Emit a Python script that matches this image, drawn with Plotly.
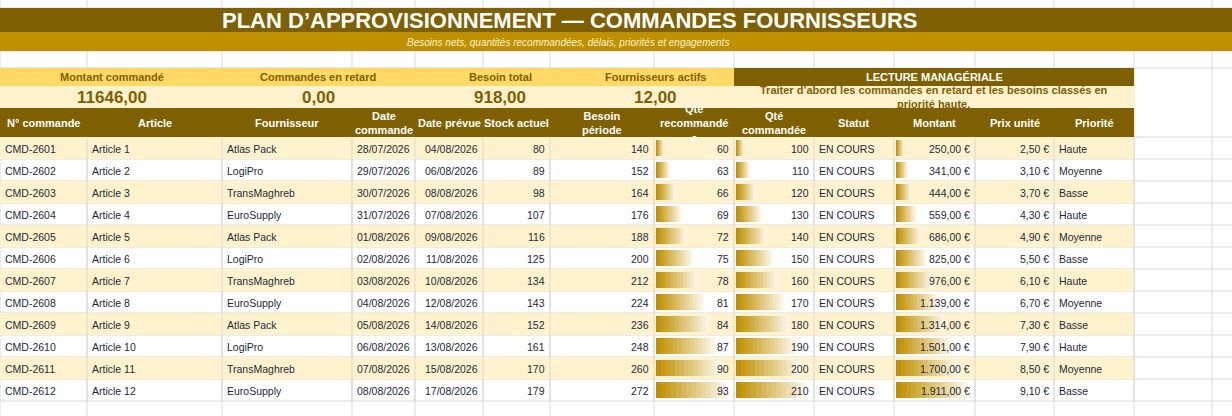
import plotly.graph_objects as go

order_ids = ["CMD-2601","CMD-2602","CMD-2603","CMD-2604","CMD-2605","CMD-2606","CMD-2607","CMD-2608","CMD-2609","CMD-2610","CMD-2611","CMD-2612"]
articles = ["Article 1","Article 2","Article 3","Article 4","Article 5","Article 6","Article 7","Article 8","Article 9","Article 10","Article 11","Article 12"]
suppliers = ["Atlas Pack","LogiPro","TransMaghreb","EuroSupply","Atlas Pack","LogiPro","TransMaghreb","EuroSupply","Atlas Pack","LogiPro","TransMaghreb","EuroSupply"]
order_dates = ["28/07/2026","29/07/2026","30/07/2026","31/07/2026","01/08/2026","02/08/2026","03/08/2026","04/08/2026","05/08/2026","06/08/2026","07/08/2026","08/08/2026"]
due_dates = ["04/08/2026","06/08/2026","08/08/2026","07/08/2026","09/08/2026","11/08/2026","10/08/2026","12/08/2026","14/08/2026","13/08/2026","15/08/2026","17/08/2026"]
stock = [80,89,98,107,116,125,134,143,152,161,170,179]
need = [140,152,164,176,188,200,212,224,236,248,260,272]
qty_rec = [60,63,66,69,72,75,78,81,84,87,90,93]
qty_ord = [100,110,120,130,140,150,160,170,180,190,200,210]
status = ["EN COURS"]*12
amount = [250,341,444,559,686,825,976,1139,1314,1501,1700,1911]
unit_price = [2.5,3.1,3.7,4.3,4.9,5.5,6.1,6.7,7.3,7.9,8.5,9.1]
priority = ["Haute","Moyenne","Basse","Haute","Moyenne","Basse","Haute","Moyenne","Basse","Haute","Moyenne","Basse"]
headers = ["N° commande","Article","Fournisseur","Date<br>commande","Date prévue","Stock actuel","Besoin<br>période","Qté<br>recommandé<br>e","Qté<br>commandée","Statut","Montant","Prix unité","Priorité"]
kpi_labels = ["Montant commandé","Commandes en retard","Besoin total","Fournisseurs actifs"]
kpi_values = ["11646,00","0,00","918,00","12,00"]

DARK="#7F6000"; GOLD="#BF9000"; LIGHT="#FFF2CC"; KPI="#FFD966"; GRID="#D9D9D9"; TXT="#1F2A3A"
FONT="Liberation Sans"
cols=[0,87,222,352,415,483,550,654,734,814,894,975,1054,1134]
ROW0=137; RH=22

def fr(v, d=2):
    s=f"{v:,.{d}f}".replace(",","X").replace(".",",").replace("X",".")
    return s

shapes=[]; ann=[]
def rect(x0,y0,x1,y1,color):
    shapes.append(dict(type="rect",x0=x0,x1=x1,y0=y0,y1=y1,fillcolor=color,line=dict(width=0),layer="below"))
def text(x,y,t,size=11,color=TXT,bold=False,xa="center",italic=False):
    if bold: t=f"<b>{t}</b>"
    if italic: t=f"<i>{t}</i>"
    ann.append(dict(x=x,y=y,text=t,showarrow=False,xanchor=xa,yanchor="middle",font=dict(family=FONT,size=size,color=color)))

# background gridlines
for x in cols+[1212]:
    shapes.append(dict(type="line",x0=x,x1=x,y0=0,y1=416,line=dict(color=GRID,width=1),layer="below"))
for y in [8,51,68]+[ROW0+RH*i for i in range(14)]:
    shapes.append(dict(type="line",x0=0,x1=1232,y0=y,y1=y,line=dict(color=GRID,width=1),layer="below"))

# title
rect(0,8,1232,32,DARK); rect(0,32,1232,51,GOLD)
text(570,20,"PLAN D’APPROVISIONNEMENT — COMMANDES FOURNISSEURS",22,"white",True)
text(568,42,"Besoins nets, quantités recommandées, délais, priorités et engagements",10,"#FFF2CC",italic=True)

# KPI
rect(0,68,734,86,KPI); rect(0,86,734,108,LIGHT)
kx=[112,318,500,655]
for x,l,v in zip(kx,kpi_labels,kpi_values):
    text(x,77,l,11,DARK,True); text(x,97,v,17,DARK,True)
rect(734,68,1134,86,DARK); rect(734,86,1134,108,LIGHT)
text(934,77,"LECTURE MANAGÉRIALE",11,"white",True)
text(934,97,"Traiter d’abord les commandes en retard et les besoins classés en<br>priorité haute.",11,DARK,True)

# header
rect(0,108,1134,137,DARK)
for i,h in enumerate(headers):
    cx=(cols[i]+cols[i+1])/2
    if i==0: text(5,123,h,11,"white",True,"left")
    else: text(cx,123,h,11,"white",True)

def grad(c1,c2,t):
    a=[int(c1[k:k+2],16) for k in (1,3,5)]; b=[int(c2[k:k+2],16) for k in (1,3,5)]
    return "#"+"".join(f"{round(a[k]+(b[k]-a[k])*t):02X}" for k in range(3))

bars=[]
def databar(ci,row,v,vals):
    x0=cols[ci]+2; w=cols[ci+1]-cols[ci]-2
    L=w*(0.1+0.8*(v-min(vals))/(max(vals)-min(vals)))
    y0=ROW0+RH*row+3; y1=ROW0+RH*(row+1)-3
    n=14
    for k in range(n):
        bars.append(dict(type="rect",x0=x0+L*k/n,x1=min(x0+L*(k+1)/n+1.2,x0+L),y0=y0,y1=y1,
                         fillcolor=grad(GOLD,"#FBF5E6",k/(n-1)),line=dict(width=0),layer="below"))

for r in range(12):
    y0=ROW0+RH*r; yc=y0+RH/2+0.5
    if r%2==0: rect(0,y0,1134,y0+RH,LIGHT)
    databar(7,r,qty_rec[r],qty_rec); databar(8,r,qty_ord[r],qty_ord); databar(10,r,amount[r],amount)
    L=[order_ids[r],articles[r],suppliers[r]]
    for i,t in enumerate(L): text(cols[i]+3,yc,t,10.5,xa="left")
    R=[order_dates[r],due_dates[r],str(stock[r]),str(need[r]),str(qty_rec[r]),str(qty_ord[r])]
    for j,t in enumerate(R): text(cols[j+4]-3,yc,t,10.5,xa="right")
    text(cols[9]+3,yc,status[r],10.5,xa="left")
    text(cols[11]-3,yc,fr(amount[r])+" €",10.5,xa="right")
    text(cols[12]-3,yc,fr(unit_price[r])+" €",10.5,xa="right")
    text(cols[12]+3,yc,priority[r],10.5,xa="left")

shapes += bars
# vertical gridlines over data rows
for x in cols[1:]:
    shapes.append(dict(type="line",x0=x,x1=x,y0=ROW0,y1=ROW0+RH*12,line=dict(color=GRID,width=1),layer="below"))

fig=go.Figure()
fig.update_layout(width=1232,height=416,margin=dict(l=0,r=0,t=0,b=0),plot_bgcolor="white",paper_bgcolor="white",
                  shapes=shapes,annotations=ann,showlegend=False,
                  xaxis=dict(range=[0,1232],visible=False,fixedrange=True),
                  yaxis=dict(range=[416,0],visible=False,fixedrange=True))
fig.write_html("out.html",config={"displayModeBar":False},
               post_script="document.body.style.margin='0';document.body.style.overflow='hidden';")
